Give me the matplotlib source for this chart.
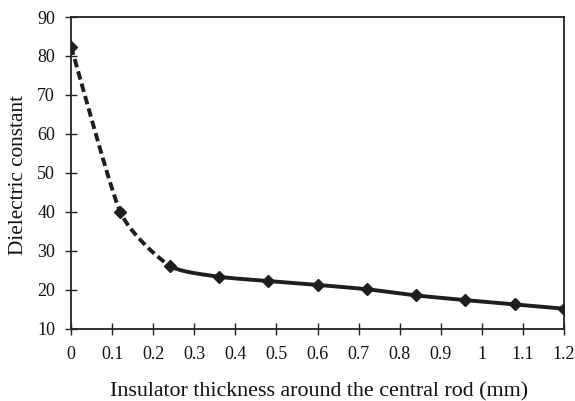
import numpy as np
import matplotlib
matplotlib.use("Agg")
import matplotlib.pyplot as plt

thickness = [0, 0.12, 0.24, 0.36, 0.48, 0.6, 0.72, 0.84, 0.96, 1.08, 1.2]
dielectric = [82.4, 40.0, 26.2, 23.4, 22.3, 21.3, 20.2, 18.6, 17.4, 16.3, 15.2]
xtick_vals = [0, 0.1, 0.2, 0.3, 0.4, 0.5, 0.6, 0.7, 0.8, 0.9, 1.0, 1.1, 1.2]
xtick_labels = ["0", "0.1", "0.2", "0.3", "0.4", "0.5", "0.6", "0.7", "0.8", "0.9", "1", "1.1", "1.2"]
ytick_vals = [10, 20, 30, 40, 50, 60, 70, 80, 90]

plt.rcParams['font.family'] = ['Liberation Serif', 'DejaVu Serif']

def smooth(xs, ys, n=20):
    # Catmull-Rom style smoothing (like spreadsheet smoothed lines)
    xs = np.asarray(xs, float); ys = np.asarray(ys, float)
    px = np.concatenate([[2*xs[0]-xs[1]], xs, [2*xs[-1]-xs[-2]]])
    py = np.concatenate([[2*ys[0]-ys[1]], ys, [2*ys[-1]-ys[-2]]])
    outx, outy = [], []
    t = np.linspace(0, 1, n)
    for i in range(1, len(px)-2):
        p0, p1, p2, p3 = [np.array([px[j], py[j]]) for j in (i-1, i, i+1, i+2)]
        m1 = (p2 - p0) / 2 * 0.6
        m2 = (p3 - p1) / 2 * 0.6
        h00 = 2*t**3 - 3*t**2 + 1; h10 = t**3 - 2*t**2 + t
        h01 = -2*t**3 + 3*t**2; h11 = t**3 - t**2
        seg = np.outer(h00, p1) + np.outer(h10, m1) + np.outer(h01, p2) + np.outer(h11, m2)
        outx.append(seg[:, 0]); outy.append(seg[:, 1])
    return outx, outy

fig = plt.figure(figsize=(5.75, 4.01), dpi=100)
ax = fig.add_axes([0.1235, 0.1796, 0.8575, 0.778])

segx, segy = smooth(thickness, dielectric)
col = '#1e1e1e'
dx = np.concatenate(segx[:2]); dy = np.concatenate(segy[:2])
ax.plot(dx, dy, color=col, lw=2.8, ls=(0, (2.2, 1.1)), solid_capstyle='butt')
sx = np.concatenate(segx[2:]); sy = np.concatenate(segy[2:])
ax.plot(sx, sy, color=col, lw=2.8)
ax.plot(thickness, dielectric, ls='none', marker='D', ms=6.5, color=col)

ax.set_xlim(0, 1.2)
ax.set_ylim(10, 90)
ax.set_xticks(xtick_vals)
ax.set_xticklabels(xtick_labels)
ax.set_yticks(ytick_vals)
ax.tick_params(direction='inout', length=9, width=1.0, color='#222222', labelsize=13, labelcolor='#111111')
ax.tick_params(axis='x', pad=8)
ax.tick_params(axis='y', pad=7)
for s in ax.spines.values():
    s.set_linewidth(1.3)
    s.set_color('#222222')

ax.set_xlabel("Insulator thickness around the central rod (mm)", fontsize=15.8, color='#111111')
ax.set_ylabel("Dielectric constant", fontsize=15.3, color='#111111')
ax.xaxis.set_label_coords((319 - 71) / 493, -(392 - 329) / 312)
ax.yaxis.set_label_coords(-(71 - 18) / 493, (329 - 175) / 312)
ax.xaxis.label.set_va('center')
ax.yaxis.label.set_va('center')

fig.savefig("out.png", dpi=100)
